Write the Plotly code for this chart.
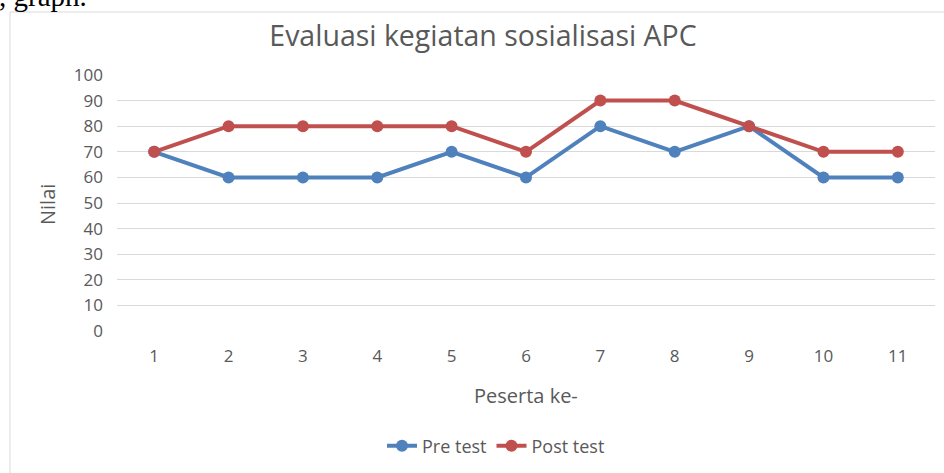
import plotly.graph_objects as go

participants = ["1", "2", "3", "4", "5", "6", "7", "8", "9", "10", "11"]
pre_test = [70, 60, 60, 60, 70, 60, 80, 70, 80, 60, 60]
post_test = [70, 80, 80, 80, 80, 70, 90, 90, 80, 70, 70]
y_ticks = [0, 10, 20, 30, 40, 50, 60, 70, 80, 90, 100]

W, H = 944, 473
L, R, T, B = 117, 9, 75, 142
pw, ph = W - L - R, H - T - B

def px(x):
    return (x - L) / pw

def py(y):
    return (H - B - y) / ph

FONT = "Open Sans"
GRAY = "#595959"

fig = go.Figure()
fig.add_trace(go.Scatter(x=participants, y=pre_test, name="Pre test", mode="lines+markers",
                         line=dict(color="#4F81BD", width=4),
                         marker=dict(color="#4F81BD", size=12)))
fig.add_trace(go.Scatter(x=participants, y=post_test, name="Post test", mode="lines+markers",
                         line=dict(color="#C0504D", width=4),
                         marker=dict(color="#C0504D", size=12)))

fig.update_layout(
    width=W, height=H,
    margin=dict(l=L, r=R, t=T, b=B),
    paper_bgcolor="white", plot_bgcolor="white",
    font=dict(family=FONT, color=GRAY, size=16),
    title=dict(text="Evaluasi kegiatan sosialisasi APC", x=483 / W, xanchor="center",
               y=1 - 36 / H, yanchor="middle",
               font=dict(family=FONT, size=28.5, color=GRAY)),
    xaxis=dict(type="category", range=[-0.5, 10.5], showgrid=False, zeroline=False,
               showline=False, ticks="", ticklabelstandoff=13,
               tickfont=dict(size=17, color=GRAY)),
    yaxis=dict(range=[0, 100], tickvals=y_ticks, showgrid=True, gridcolor="#d9d9d9",
               gridwidth=1, zeroline=False, showline=False, ticks="",
               ticklabelstandoff=13, tickfont=dict(size=17, color=GRAY)),
    showlegend=True,
    legend=dict(orientation="h", x=px(496), xanchor="center", y=py(446), yanchor="middle",
                font=dict(size=18, color=GRAY), itemwidth=30),
    annotations=[
        dict(text="Peserta ke-", x=px(526), y=py(395), xref="paper", yref="paper",
             showarrow=False, font=dict(size=20, color=GRAY), xanchor="center", yanchor="middle"),
        dict(text="Nilai", x=px(47), y=py(205), xref="paper", yref="paper", textangle=-90,
             showarrow=False, font=dict(size=20, color=GRAY), xanchor="center", yanchor="middle"),
        dict(text=", graph.", x=px(-3), y=py(14), xref="paper", yref="paper",
             showarrow=False, font=dict(family="Liberation Serif", size=29, color="black"),
             xanchor="left", yanchor="bottom"),
    ],
    shapes=[
        dict(type="rect", xref="paper", yref="paper", x0=px(10), x1=px(960), y0=py(490), y1=py(12),
             line=dict(color="#d9d9d9", width=1), fillcolor="rgba(0,0,0,0)", layer="below"),
    ],
)

fig.write_html("out.html", config={"displayModeBar": False},
               post_script="document.body.style.margin='0';document.body.style.overflow='hidden';")
